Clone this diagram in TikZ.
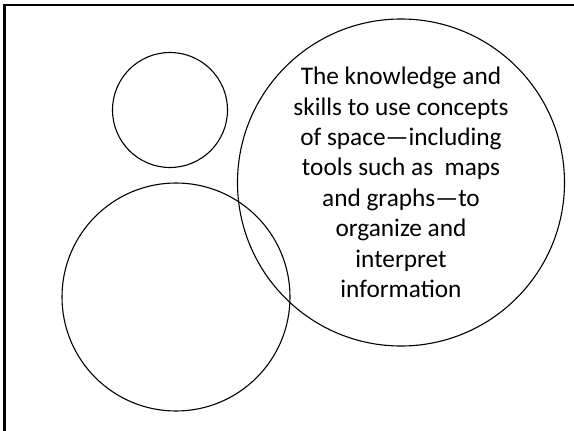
\documentclass[tikz,border=0pt]{standalone}
\usepackage{fontspec}
\setmainfont{Carlito}

\begin{document}
\begin{tikzpicture}[x=1pt,y=-1pt,
  ring/.style={draw,circle,line width=1.1pt,inner sep=0pt},
  frame/.style={line width=2.5pt}]
  \useasboundingbox (0,0) rectangle (574,431);
  % slide border, only its top and left edges are inside
  \draw[frame] (4.7,431) |- (574,5);
  \node(top)[ring,minimum size=115pt] at (170,110){};
  \node(bottom)[ring,minimum size=228pt] at (176,297){};
  \node(space)[ring,minimum size=327pt,align=center,
    font=\fontsize{25.3}{30.4}\selectfont] at (401,182.5)
    {The knowledge and\\skills to use concepts\\of space—including\\tools such as\ \ maps\\and graphs—to\\organize and\\interpret\\information};
\end{tikzpicture}
\end{document}
